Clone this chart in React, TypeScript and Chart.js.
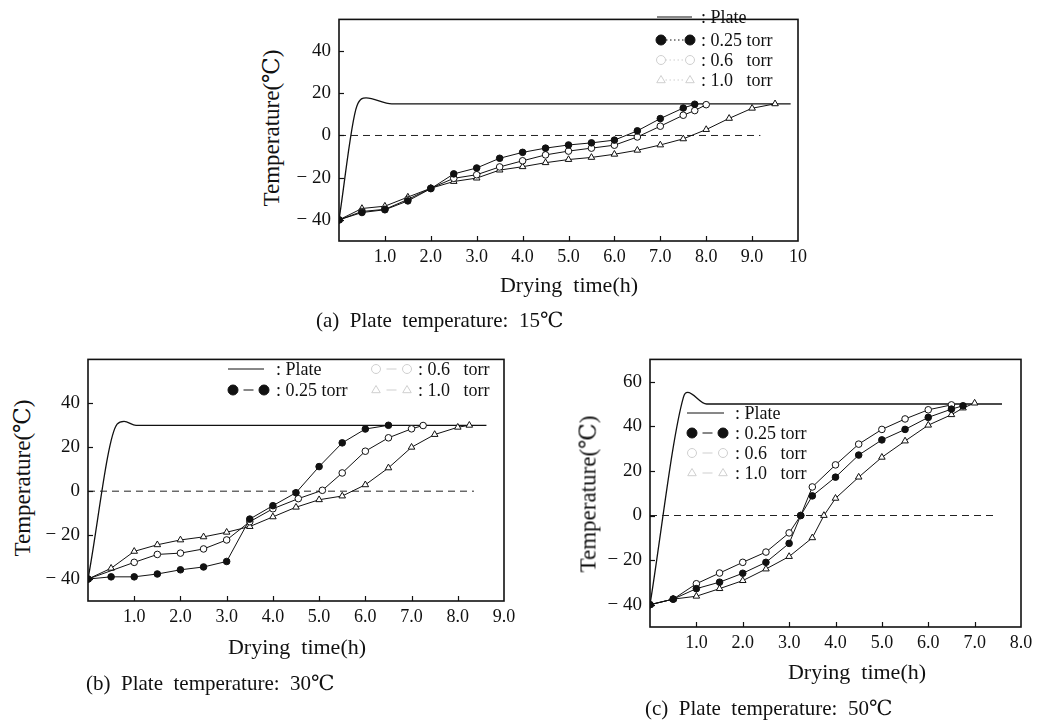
import React, { useEffect, useRef } from "react";
import { Chart, registerables } from "chart.js";

Chart.register(...registerables);

const FONT = "'Liberation Serif', 'Times New Roman', 'DejaVu Serif', 'Noto Sans CJK JP', serif";

// ---------------- Panel (a): plate temperature 15 ℃ ----------------
const aPlateX = [0, 0.39, 0.59, 1.15, 9.84];
const aPlateY = [-40, 14, 17.8, 15, 15];
const aZeroX = [0, 9.18];
const aZeroY = [0, 0];
const a25X = [0, 0.5, 1.0, 1.5, 2.0, 2.5, 3.0, 3.5, 4.0, 4.5, 5.0, 5.5, 6.0, 6.5, 7.0, 7.5, 7.75];
const a25Y = [-40, -36.5, -35.2, -31, -25.2, -18.2, -15.4, -10.8, -8, -6, -4.5, -3.5, -2.2, 2.2, 8, 13, 14.8];
const a06X = [0, 0.5, 1.0, 1.5, 2.0, 2.5, 3.0, 3.5, 4.0, 4.5, 5.0, 5.5, 6.0, 6.5, 7.0, 7.5, 7.75, 8.0];
const a06Y = [-40, -36, -35, -30.3, -25, -20.3, -18.6, -14.9, -12, -9.2, -7.4, -6, -4.6, -0.7, 4.4, 9.6, 11.8, 14.6];
const a10X = [0, 0.5, 1.0, 1.5, 2.0, 2.5, 3.0, 3.5, 4.0, 4.5, 5.0, 5.5, 6.0, 6.5, 7.0, 7.5, 8.0, 8.5, 9.0, 9.5];
const a10Y = [-40, -34.6, -33.5, -29.2, -25, -21.8, -20.2, -16.4, -14.8, -12.9, -11.4, -10.4, -8.9, -7, -4.5, -1.6, 2.8, 8.1, 12.9, 15];

// ---------------- Panel (b): plate temperature 30 ℃ ----------------
const bPlateX = [0, 0.63, 0.78, 1.04, 8.62];
const bPlateY = [-40, 30.5, 31.8, 30, 30];
const bZeroX = [0, 8.35];
const bZeroY = [0, 0];
const b25X = [0, 0.5, 1.0, 1.5, 2.0, 2.5, 3.0, 3.5, 4.0, 4.5, 5.0, 5.5, 6.0, 6.5];
const b25Y = [-40, -39, -39, -37.7, -35.8, -34.5, -32, -12.7, -6.6, -0.7, 11.2, 22, 28.3, 30];
const b06X = [0, 1.0, 1.5, 2.0, 2.5, 3.0, 3.5, 4.0, 4.55, 5.07, 5.5, 6.0, 6.5, 7.0, 7.25];
const b06Y = [-40, -32.4, -28.8, -28.2, -26.3, -22.2, -13.9, -8, -3.4, 0.4, 8.3, 18.2, 24.3, 28.4, 29.9];
const b10X = [0, 0.5, 1.0, 1.5, 2.0, 2.5, 3.0, 3.5, 4.0, 4.5, 5.0, 5.5, 6.0, 6.5, 7.0, 7.5, 8.0, 8.25];
const b10Y = [-40, -35.1, -27.4, -24.4, -22.2, -20.8, -18.7, -16.1, -11.7, -7.3, -3.9, -2.2, 2.9, 10.6, 20, 25.8, 29.1, 30];

// ---------------- Panel (c): plate temperature 50 ℃ ----------------
const cPlateX = [0, 0.72, 0.81, 1.22, 7.59];
const cPlateY = [-40, 53, 55.2, 50, 50];
const cZeroX = [0, 7.44];
const cZeroY = [0, 0];
const c25X = [0, 0.5, 1.0, 1.5, 2.0, 2.5, 3.0, 3.25, 3.5, 4.0, 4.5, 5.0, 5.5, 6.0, 6.5, 6.75];
const c25Y = [-40, -37.5, -32.8, -29.9, -25.9, -21, -12.5, 0, 8.8, 17.2, 27.1, 33.9, 38.6, 44, 47.7, 49.2];
const c06X = [0, 0.5, 1.0, 1.5, 2.0, 2.5, 3.0, 3.25, 3.5, 4.0, 4.5, 5.0, 5.5, 6.0, 6.5];
const c06Y = [-40, -37.5, -30.6, -25.8, -21, -16.4, -7.8, 0, 12.8, 22.7, 32, 38.6, 43.3, 47.4, 49.6];
const c10X = [0, 0.5, 1.0, 1.5, 2.0, 2.5, 3.0, 3.5, 3.75, 4.0, 4.5, 5.0, 5.5, 6.0, 6.5, 6.75, 7.0];
const c10Y = [-40, -37.5, -36.2, -32.8, -29.2, -24, -18.4, -10, 0, 7.7, 17.2, 26.1, 33.4, 40.5, 45.2, 48.2, 50.4];

// legend texts
const LEG_PLATE = ": Plate";
const LEG_25 = ": 0.25 torr";
const LEG_06 = ": 0.6   torr";
const LEG_10 = ": 1.0   torr";

type Pt = { x: number; y: number };
const zip = (xs: number[], ys: number[]): Pt[] => xs.map((x, i) => ({ x, y: ys[i] }));

type Kind = "plate" | "filled" | "open" | "tri";
interface LegendItem { kind: Kind; label: string; x1: number; x2: number; tx: number; y: number; }

interface PanelCfg {
  box: [number, number, number, number]; // canvas left, top, width, height (page px)
  area: [number, number, number, number]; // chart area left, top, right, bottom (page px)
  xMax: number;
  yMin: number;
  yMax: number;
  yLabelMax: number;
  legendDash: number[];
  plate: Pt[];
  zero: Pt[];
  s25: Pt[];
  s06: Pt[];
  s10: Pt[];
  legend: LegendItem[];
}

const panels: PanelCfg[] = [
  {
    box: [290, 0, 530, 275],
    area: [339, 7, 798, 241],
    xMax: 10, yMin: -50, yMax: 55, yLabelMax: 40,
    legendDash: [1.5, 2.5],
    plate: zip(aPlateX, aPlateY), zero: zip(aZeroX, aZeroY),
    s25: zip(a25X, a25Y), s06: zip(a06X, a06Y), s10: zip(a10X, a10Y),
    legend: [
      { kind: "plate", label: LEG_PLATE, x1: 657, x2: 692, tx: 701, y: 17 },
      { kind: "filled", label: LEG_25, x1: 661, x2: 690, tx: 701, y: 40 },
      { kind: "open", label: LEG_06, x1: 661, x2: 690, tx: 701, y: 60 },
      { kind: "tri", label: LEG_10, x1: 661, x2: 690, tx: 701, y: 80 },
    ],
  },
  {
    box: [40, 340, 490, 295],
    area: [88, 354, 504, 601],
    xMax: 9, yMin: -50, yMax: 60, yLabelMax: 40,
    legendDash: [6, 100],
    plate: zip(bPlateX, bPlateY), zero: zip(bZeroX, bZeroY),
    s25: zip(b25X, b25Y), s06: zip(b06X, b06Y), s10: zip(b10X, b10Y),
    legend: [
      { kind: "plate", label: LEG_PLATE, x1: 228, x2: 264, tx: 276, y: 369 },
      { kind: "filled", label: LEG_25, x1: 233, x2: 264, tx: 276, y: 390 },
      { kind: "open", label: LEG_06, x1: 376, x2: 407, tx: 418, y: 369 },
      { kind: "tri", label: LEG_10, x1: 376, x2: 407, tx: 418, y: 390 },
    ],
  },
  {
    box: [600, 340, 441, 320],
    area: [650, 356, 1021, 627],
    xMax: 8, yMin: -50, yMax: 70, yLabelMax: 60,
    legendDash: [6, 100],
    plate: zip(cPlateX, cPlateY), zero: zip(cZeroX, cZeroY),
    s25: zip(c25X, c25Y), s06: zip(c06X, c06Y), s10: zip(c10X, c10Y),
    legend: [
      { kind: "plate", label: LEG_PLATE, x1: 687, x2: 724, tx: 735, y: 413 },
      { kind: "filled", label: LEG_25, x1: 692, x2: 723, tx: 735, y: 433 },
      { kind: "open", label: LEG_06, x1: 692, x2: 723, tx: 735, y: 453 },
      { kind: "tri", label: LEG_10, x1: 692, x2: 723, tx: 735, y: 473 },
    ],
  },
];

function drawMarker(ctx: CanvasRenderingContext2D, kind: Kind, x: number, y: number, r: number, color: string) {
  ctx.beginPath();
  if (kind === "tri") {
    ctx.moveTo(x, y - r);
    ctx.lineTo(x + r * 0.95, y + r * 0.6);
    ctx.lineTo(x - r * 0.95, y + r * 0.6);
    ctx.closePath();
  } else {
    ctx.arc(x, y, r, 0, Math.PI * 2);
  }
  ctx.fillStyle = kind === "filled" ? color : "#fff";
  ctx.strokeStyle = color;
  ctx.setLineDash([]);
  ctx.fill();
  ctx.stroke();
}

function makeDeco(cfg: PanelCfg) {
  const [bx, by] = cfg.box;
  return {
    id: "deco",
    afterDatasetsDraw(chart: any) {
      const { ctx, chartArea: a, scales } = chart;
      ctx.save();
      ctx.strokeStyle = "#111";
      ctx.lineWidth = 1.6;
      ctx.strokeRect(a.left, a.top, a.right - a.left, a.bottom - a.top);
      ctx.lineWidth = 1.2;
      for (const t of scales.x.ticks) {
        if (t.value <= scales.x.min || t.value >= scales.x.max) continue;
        const px = Math.round(scales.x.getPixelForValue(t.value)) + 0.5;
        ctx.beginPath();
        ctx.moveTo(px, a.bottom);
        ctx.lineTo(px, a.bottom - 5);
        ctx.stroke();
      }
      for (const t of scales.y.ticks) {
        if (t.value <= scales.y.min || t.value >= scales.y.max || t.value % 10 !== 0) continue;
        const py = Math.round(scales.y.getPixelForValue(t.value)) + 0.5;
        ctx.beginPath();
        ctx.moveTo(a.left, py);
        ctx.lineTo(a.left + 5, py);
        ctx.stroke();
      }
      // legend
      ctx.font = `18px ${FONT}`;
      ctx.textBaseline = "middle";
      ctx.textAlign = "left";
      for (const it of cfg.legend) {
        const y = it.y - by;
        const x1 = it.x1 - bx;
        const x2 = it.x2 - bx;
        const faint = it.kind === "open" || it.kind === "tri";
        const col = faint ? "#cfcfcf" : "#111";
        ctx.strokeStyle = col;
        ctx.lineWidth = 1;
        if (it.kind === "plate") {
          ctx.setLineDash([]);
          ctx.beginPath();
          ctx.moveTo(x1, y);
          ctx.lineTo(x2, y);
          ctx.stroke();
        } else {
          const r = it.kind === "filled" ? 5 : 4.5;
          if (cfg.legendDash[1] > 50) {
            // short dash centred between the two markers
            const mid = (x1 + x2) / 2;
            ctx.setLineDash([]);
            ctx.beginPath();
            ctx.moveTo(mid - cfg.legendDash[0] / 2 - 2, y);
            ctx.lineTo(mid + cfg.legendDash[0] / 2 + 2, y);
            ctx.stroke();
          } else {
            ctx.setLineDash(cfg.legendDash);
            ctx.beginPath();
            ctx.moveTo(x1 + r, y);
            ctx.lineTo(x2 - r, y);
            ctx.stroke();
            ctx.setLineDash([]);
          }
          drawMarker(ctx, it.kind, x1, y, r, col);
          drawMarker(ctx, it.kind, x2, y, r, col);
        }
        ctx.fillStyle = "#111";
        ctx.fillText(it.label, it.tx - bx, y + 1);
      }
      ctx.restore();
    },
  };
}

function Panel({ cfg }: { cfg: PanelCfg }) {
  const ref = useRef<HTMLCanvasElement | null>(null);
  useEffect(() => {
    if (!ref.current) return;
    const [bx, by, bw, bh] = cfg.box;
    const [L, T, R, B] = cfg.area;
    const black = "#111";
    const chart = new Chart(ref.current, {
      type: "line",
      data: {
        datasets: [
          { data: cfg.plate, borderColor: black, borderWidth: 1.3, pointRadius: 0, cubicInterpolationMode: "monotone", order: 5 } as any,
          { data: cfg.zero, borderColor: "#222", borderWidth: 1, borderDash: [7, 5], pointRadius: 0, order: 4 } as any,
          { data: cfg.s10, borderColor: black, borderWidth: 1, pointStyle: "triangle", pointRadius: 3.8, pointBackgroundColor: "#fff", pointBorderColor: black, pointBorderWidth: 1, order: 3 } as any,
          { data: cfg.s06, borderColor: black, borderWidth: 1, pointStyle: "circle", pointRadius: 3.3, pointBackgroundColor: "#fff", pointBorderColor: black, pointBorderWidth: 1, order: 2 } as any,
          { data: cfg.s25, borderColor: black, borderWidth: 1, pointStyle: "circle", pointRadius: 3.3, pointBackgroundColor: black, pointBorderColor: black, pointBorderWidth: 1, order: 1 } as any,
        ],
      },
      options: {
        animation: false,
        responsive: false,
        maintainAspectRatio: false,
        events: [],
        layout: { padding: { top: T - by, right: bx + bw - R, left: 0, bottom: 0 } },
        plugins: { legend: { display: false }, tooltip: { enabled: false }, title: { display: false } },
        scales: {
          x: {
            type: "linear",
            min: 0,
            max: cfg.xMax,
            grid: { display: false, drawTicks: false },
            border: { display: false },
            ticks: {
              stepSize: 0.5,
              autoSkip: false,
              maxRotation: 0,
              minRotation: 0,
              padding: 5,
              color: black,
              font: { family: FONT, size: 18 },
              callback: (v: any) => {
                const n = Number(v);
                if (n > 0 && Math.abs(n - Math.round(n)) < 1e-9) return n === 10 ? "10" : n.toFixed(1);
                return null;
              },
            },
            afterFit: (s: any) => {
              s.height = by + bh - B;
            },
          },
          y: {
            type: "linear",
            min: cfg.yMin,
            max: cfg.yMax,
            grid: { display: false, drawTicks: false },
            border: { display: false },
            ticks: {
              stepSize: 10,
              autoSkip: false,
              padding: 8,
              color: black,
              font: { family: FONT, size: 19 },
              callback: (v: any) => {
                const n = Number(v);
                if (n % 20 === 0 && n >= -40 && n <= cfg.yLabelMax) return n < 0 ? "\u2212 " + Math.abs(n) : String(n);
                return null;
              },
            },
            afterFit: (s: any) => {
              s.width = L - bx;
            },
          },
        },
      } as any,
      plugins: [makeDeco(cfg)],
    });
    return () => chart.destroy();
  }, [cfg]);
  const [bx, by, bw, bh] = cfg.box;
  return (
    <canvas
      ref={ref}
      width={bw}
      height={bh}
      style={{ position: "absolute", left: bx, top: by, width: bw, height: bh }}
    />
  );
}

const textBase: React.CSSProperties = {
  position: "absolute",
  fontFamily: FONT,
  color: "#111",
  whiteSpace: "pre",
  lineHeight: 1,
};

const yTitles = [
  { x: 271, y: 128 },
  { x: 22, y: 478 },
  { x: 588, y: 494 },
];
const xTitles = [
  { x: 569, y: 285 },
  { x: 297, y: 647 },
  { x: 857, y: 672 },
];
const captions = [
  { x: 316, y: 320, text: "(a)  Plate  temperature:  15\u2103" },
  { x: 86, y: 683, text: "(b)  Plate  temperature:  30\u2103" },
  { x: 645, y: 708, text: "(c)  Plate  temperature:  50\u2103" },
];

export default function App() {
  return (
    <div style={{ position: "absolute", left: 0, top: 0, width: 1041, height: 722, background: "#fff", overflow: "hidden" }}>
      {panels.map((p, i) => (
        <Panel key={i} cfg={p} />
      ))}
      {yTitles.map((t, i) => (
        <div key={"yt" + i} style={{ ...textBase, fontSize: 23, left: t.x, top: t.y, transform: "translate(-50%, -50%) rotate(-90deg)" }}>
          Temperature(℃)
        </div>
      ))}
      {xTitles.map((t, i) => (
        <div key={"xt" + i} style={{ ...textBase, fontSize: 22, left: t.x, top: t.y, transform: "translate(-50%, -50%)" }}>
          {"Drying  time(h)"}
        </div>
      ))}
      {captions.map((c, i) => (
        <div key={"cap" + i} style={{ ...textBase, fontSize: 21, left: c.x, top: c.y, transform: "translate(0, -50%)" }}>
          {c.text}
        </div>
      ))}
    </div>
  );
}
